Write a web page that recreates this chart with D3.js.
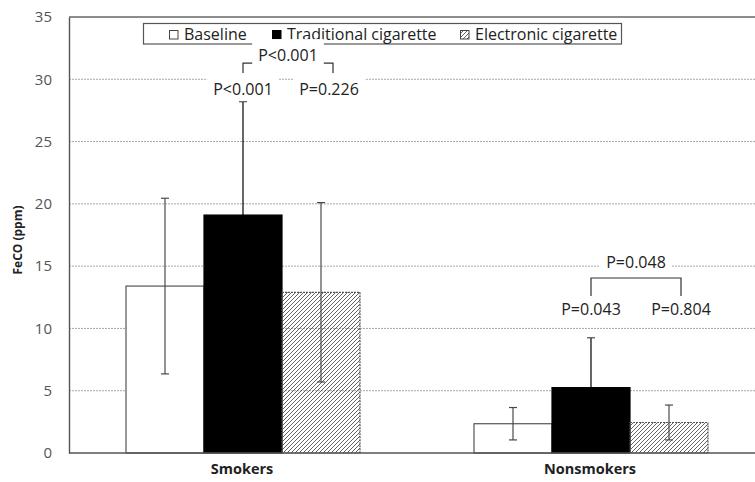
<!DOCTYPE html>
<html>
<head>
<meta charset="utf-8">
<script src="https://cdn.jsdelivr.net/npm/d3@7"></script>
<style>
  body { margin: 0; background: #fff; }
  svg text { font-family: "Open Sans", "Noto Sans", sans-serif; }
</style>
</head>
<body>
<svg id="chart" width="755" height="482"></svg>
<script>
// values
const groups = ["Smokers", "Nonsmokers"];
const series = ["Baseline", "Traditional cigarette", "Electronic cigarette"];
const baselineMean = [13.4, 2.35];
const baselineSd = [7.05, 1.3];
const traditionalMean = [19.1, 5.25];
const traditionalSd = [9.1, 4.0];
const electronicMean = [12.9, 2.45];
const electronicSd = [7.2, 1.4];
const yTicks = [0, 5, 10, 15, 20, 25, 30, 35];

// p values: top = traditional vs electronic, left = vs baseline, right = electronic vs baseline
const pTop = ["P<0.001", "P=0.048"];
const pLeft = ["P<0.001", "P=0.043"];
const pRight = ["P=0.226", "P=0.804"];
const bracketLevel = [31.3, 14.05];

const means = [baselineMean, traditionalMean, electronicMean];
const sds = [baselineSd, traditionalSd, electronicSd];

const svg = d3.select("#chart");
const plotLeft = 69, plotTop = 17, plotBottom = 453, plotRight = 765;

const y = d3.scaleLinear().domain([0, 35]).range([plotBottom, plotTop]);
const x = d3.scaleBand().domain(groups).range([plotLeft, plotRight]).padding(0);
const barW = 78;
const xs = d3.scaleBand().domain(series).range([0, barW * 3]);
const groupOffset = (x.bandwidth() - barW * 3) / 2;

// hatch pattern for the e-cig bars
const defs = svg.append("defs");
defs.append("pattern")
    .attr("id", "hatch")
    .attr("patternUnits", "userSpaceOnUse")
    .attr("width", 4)
    .attr("height", 4)
  .append("path")
    .attr("d", "M-1,1 l2,-2 M0,4 l4,-4 M3,5 l2,-2")
    .attr("stroke", "#444")
    .attr("stroke-width", 0.85);

const fills = ["#fff", "#000", "url(#hatch)"];

// gridlines
svg.append("g")
    .selectAll("line")
    .data(yTicks.filter(d => d > 0 && d < 35))
    .join("line")
    .attr("x1", plotLeft)
    .attr("x2", 755)
    .attr("y1", d => y(d))
    .attr("y2", d => y(d))
    .attr("stroke", "#a8a8a8")
    .attr("stroke-width", 1)
    .attr("stroke-dasharray", "2,1");

// top frame line
svg.append("line")
    .attr("x1", plotLeft).attr("x2", 755)
    .attr("y1", y(35)).attr("y2", y(35))
    .attr("stroke", "#666").attr("stroke-width", 1.3);

// y axis
const yAxis = svg.append("g")
    .attr("transform", `translate(${plotLeft},0)`)
    .call(d3.axisLeft(y).tickValues(yTicks).tickSize(0).tickPadding(17));
yAxis.select(".domain").attr("stroke", "#555").attr("stroke-width", 1.4);
yAxis.selectAll("text")
    .attr("fill", "#555")
    .style("font-size", "15px")
    .style("font-family", "Open Sans");

svg.append("text")
    .attr("transform", `translate(22,${(plotTop + plotBottom) / 2 + 5}) rotate(-90)`)
    .attr("text-anchor", "middle")
    .style("font-size", "12px")
    .style("font-weight", "bold")
    .attr("fill", "#222")
    .text("FeCO (ppm)");

// bars
const barData = [];
groups.forEach((g, gi) => {
    series.forEach((s, si) => {
        barData.push({ group: g, series: s, si: si, mean: means[si][gi], sd: sds[si][gi] });
    });
});

const barX = d => x(d.group) + groupOffset + xs(d.series);

svg.append("g")
    .selectAll("rect")
    .data(barData)
    .join("rect")
    .attr("x", barX)
    .attr("y", d => y(d.mean))
    .attr("width", xs.bandwidth())
    .attr("height", d => y(0) - y(d.mean))
    .attr("fill", d => fills[d.si])
    .attr("stroke", d => d.si === 1 ? "#000" : "#555")
    .attr("stroke-width", 1.2)
    .attr("stroke-dasharray", d => d.si === 2 ? "2,1" : null);

// error bars
const err = svg.append("g")
    .selectAll("g")
    .data(barData)
    .join("g")
    .attr("transform", d => `translate(${barX(d) + xs.bandwidth() / 2},0)`);

err.append("line")
    .attr("y1", d => y(d.mean + d.sd))
    .attr("y2", d => y(d.mean - d.sd))
    .attr("stroke", d => d.si === 1 ? "#000" : "#4a4a4a")
    .attr("stroke-width", 1.2);
err.append("line")
    .attr("x1", -4).attr("x2", 4)
    .attr("y1", d => y(d.mean + d.sd))
    .attr("y2", d => y(d.mean + d.sd))
    .attr("stroke", "#4a4a4a")
    .attr("stroke-width", 1.2);
err.filter(d => d.si !== 1).append("line")
    .attr("x1", -4).attr("x2", 4)
    .attr("y1", d => y(d.mean - d.sd))
    .attr("y2", d => y(d.mean - d.sd))
    .attr("stroke", "#4a4a4a")
    .attr("stroke-width", 1.2);

// x axis
svg.append("line")
    .attr("x1", plotLeft).attr("x2", 755)
    .attr("y1", plotBottom).attr("y2", plotBottom)
    .attr("stroke", "#555").attr("stroke-width", 1.4);

svg.append("g")
    .selectAll("text")
    .data(groups)
    .join("text")
    .attr("x", d => x(d) + x.bandwidth() / 2 - 1)
    .attr("y", 474)
    .attr("text-anchor", "middle")
    .style("font-size", "14.5px")
    .style("font-weight", "bold")
    .attr("fill", "#222")
    .text(d => d);

// legend
const legend = svg.append("g");
legend.append("rect")
    .attr("x", 143.5).attr("y", 23.5)
    .attr("width", 478).attr("height", 20.5)
    .attr("fill", "#fff")
    .attr("stroke", "#555").attr("stroke-width", 1.2);

const legendX = [169, 272, 460];
const li = legend.selectAll("g")
    .data(series)
    .join("g")
    .attr("transform", (d, i) => `translate(${legendX[i]},30)`);
li.append("rect")
    .attr("x", 0.5).attr("y", 0.5)
    .attr("width", 8.5).attr("height", 8.5)
    .attr("fill", (d, i) => fills[i])
    .attr("stroke", (d, i) => i === 1 ? "#000" : "#444")
    .attr("stroke-width", 1);
li.append("text")
    .attr("x", 15)
    .attr("y", 10)
    .style("font-size", "16px")
    .attr("fill", "#222")
    .text(d => d);

// p value annotations
const ann = svg.append("g");

const labelWithBg = (cx, cy, txt, padTop) => {
    const g = ann.append("g");
    const t = g.append("text")
        .attr("x", cx)
        .attr("y", cy)
        .attr("text-anchor", "middle")
        .style("font-size", "16px")
        .attr("fill", "#222")
        .text(txt);
    const b = t.node().getBBox();
    g.insert("rect", "text")
        .attr("x", b.x - 6)
        .attr("y", b.y - padTop)
        .attr("width", b.width + 12)
        .attr("height", b.height + padTop + 1)
        .attr("fill", "#fff");
};

groups.forEach((g, gi) => {
    const x1 = x(g) + groupOffset + xs(series[1]) + xs.bandwidth() / 2;
    const x2 = x1 + 90;
    const by = y(bracketLevel[gi]);

    if (gi === 0) {
        // smokers: label sits on the bracket line
        ann.append("path")
            .attr("d", `M${x1},${by + 10} V${by} H${x2} V${by + 13}`)
            .attr("fill", "none").attr("stroke", "#333").attr("stroke-width", 1.2);
        labelWithBg((x1 + x2) / 2, by - 2, pTop[gi], 5);
        labelWithBg(x1, by + 32, pLeft[gi], 5);
        labelWithBg(x2 - 4, by + 32, pRight[gi], 5);
    } else {
        ann.append("path")
            .attr("d", `M${x1},${by + 18} V${by} H${x2} V${by + 18}`)
            .attr("fill", "none").attr("stroke", "#333").attr("stroke-width", 1.2);
        labelWithBg((x1 + x2) / 2, by - 10, pTop[gi], 3);
        labelWithBg(x1, by + 37, pLeft[gi], 1);
        labelWithBg(x2, by + 37, pRight[gi], 1);
    }
});
</script>
</body>
</html>
